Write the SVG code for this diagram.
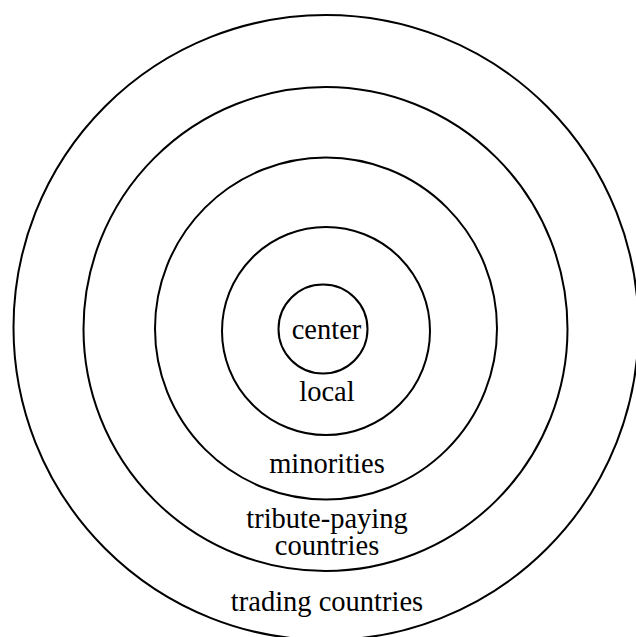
<svg xmlns="http://www.w3.org/2000/svg" width="636" height="637" viewBox="0 0 636 637">
  <style>
    .ring { fill: none; stroke: #000; stroke-width: 2; }
    .label { font-family: "Liberation Serif", "Times New Roman", serif; font-size: 28.5px; fill: #000; text-anchor: middle; }
  </style>
  <rect width="636" height="637" fill="#fff"/>
  <g id="trading">
    <circle class="ring" cx="326" cy="327.5" r="312.5"/>
    <text class="label" x="327" y="611">trading countries</text>
  </g>
  <g id="tribute">
    <circle class="ring" cx="325.5" cy="329" r="242"/>
    <text class="label" x="327" y="528">tribute-paying</text>
    <text class="label" x="327" y="555">countries</text>
  </g>
  <g id="minorities">
    <circle class="ring" cx="326" cy="328.5" r="171"/>
    <text class="label" x="327" y="472.5">minorities</text>
  </g>
  <g id="local">
    <circle class="ring" cx="326" cy="331" r="104"/>
    <text class="label" x="327" y="401">local</text>
  </g>
  <g id="center">
    <circle class="ring" cx="323" cy="329" r="44.5"/>
    <text class="label" x="326.5" y="338.5">center</text>
  </g>
</svg>
